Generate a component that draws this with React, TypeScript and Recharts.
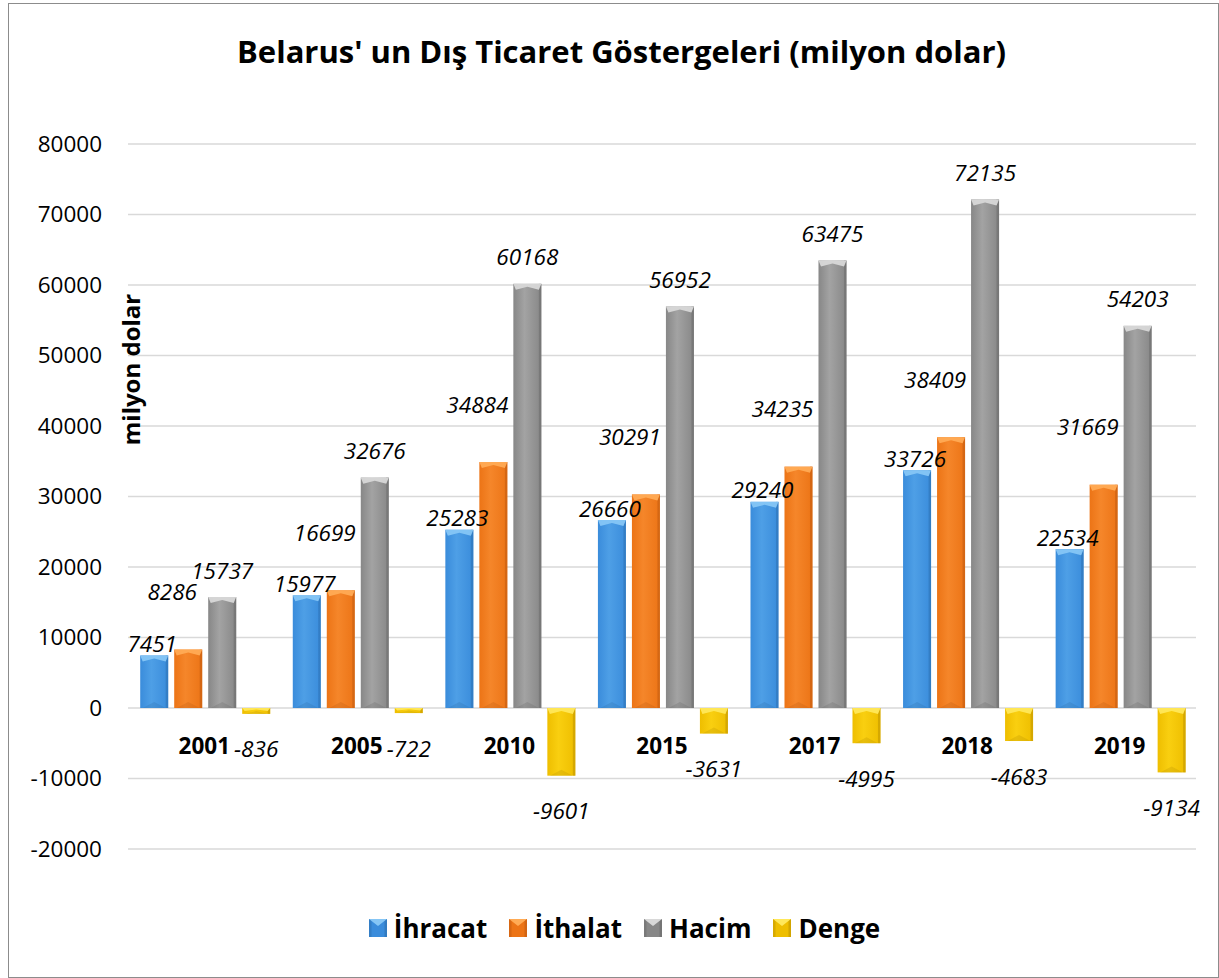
import React from "react";
import { BarChart, Bar, XAxis, YAxis, CartesianGrid, LabelList } from "recharts";

const years = ["2001", "2005", "2010", "2015", "2017", "2018", "2019"];
const ihracat = [7451, 15977, 25283, 26660, 29240, 33726, 22534];
const ithalat = [8286, 16699, 34884, 30291, 34235, 38409, 31669];
const hacim = [15737, 32676, 60168, 56952, 63475, 72135, 54203];
const denge = [-836, -722, -9601, -3631, -4995, -4683, -9134];
const yTicks = [-20000, -10000, 0, 10000, 20000, 30000, 40000, 50000, 60000, 70000, 80000];

const data = years.map((y, i) => ({
  year: y,
  ihracat: ihracat[i],
  ithalat: ithalat[i],
  hacim: hacim[i],
  denge: denge[i],
}));

const W = 1211;
const H = 975;
const XAXIS_H = 30;
const M = { top: 141, right: 23, bottom: 129 - XAXIS_H, left: 20 };
const Y_MIN = -20000;
const Y_MAX = 80000;
const plotH = H - M.top - M.bottom - XAXIS_H;
const zeroY = M.top + (plotH * Y_MAX) / (Y_MAX - Y_MIN);

const FONT = "'Open Sans', 'Liberation Sans', sans-serif";

const palette: Record<string, { main: string; mid: string; light: string; dark: string }> = {
  ihracat: { main: "#3a8cdb", mid: "#4e9fe6", light: "#86c6f5", dark: "#2a6aa8" },
  ithalat: { main: "#ec7416", mid: "#f5862a", light: "#ffab55", dark: "#b9560f" },
  hacim: { main: "#878787", mid: "#a3a3a3", light: "#d8d8d8", dark: "#636363" },
  denge: { main: "#eebe00", mid: "#f9cf10", light: "#ffe85a", dark: "#b58c00" },
};

const makeShape = (key: string) => (props: any) => {
  const { x, y, width, height } = props;
  if (width == null || height == null) return null;
  const top = Math.min(y, y + height);
  const h = Math.abs(height);
  if (h < 0.5) return null;
  const p = palette[key];
  const b = Math.min(6, h / 2);
  const s = Math.min(2.5, width / 6);
  return (
    <g>
      <rect x={x} y={top} width={width} height={h} fill={`url(#body-${key})`} />
      <rect x={x + width - s} y={top} width={s} height={h} fill={p.dark} opacity={0.45} />
      <polygon
        points={`${x},${top} ${x + width},${top} ${x + width - s},${top + b} ${x + width / 2},${top + b * 0.5} ${x + s},${top + b}`}
        fill={p.light}
        opacity={0.95}
      />
      <polygon points={`${x + s},${top + h} ${x + width - s},${top + h} ${x + width / 2},${top + h - b}`} fill={p.dark} opacity={0.25} />
    </g>
  );
};

const makeLabel = (dx: number, dy: number, below: boolean) => (props: any) => {
  const { x, y, width, height, value } = props;
  const top = Math.min(y, y + height);
  const bottom = Math.max(y, y + height);
  const cx = x + width / 2 + dx;
  const cy = (below ? bottom : top) + dy;
  return (
    <text x={cx} y={cy} textAnchor="middle" dominantBaseline="central" fontFamily={FONT} fontStyle="italic" fontSize={22.5} fill="#000">
      {value}
    </text>
  );
};

const CatTick = (props: any) => {
  const { x, payload } = props;
  return (
    <text x={x} y={zeroY + 37} textAnchor="middle" dominantBaseline="central" fontFamily={FONT} fontWeight="bold" fontSize={22.5} fill="#000">
      {payload.value}
    </text>
  );
};

const legendItems = [
  { key: "ihracat", name: "İhracat" },
  { key: "ithalat", name: "İthalat" },
  { key: "hacim", name: "Hacim" },
  { key: "denge", name: "Denge" },
];

const LegendSwatch = ({ k }: { k: string }) => {
  const p = palette[k];
  return (
    <svg width={18} height={18} style={{ marginRight: 7 }}>
      <rect x={0} y={0} width={18} height={18} fill={p.main} />
      <rect x={0} y={0} width={2.5} height={18} fill={p.dark} opacity={0.4} />
      <rect x={15.5} y={0} width={2.5} height={18} fill={p.dark} opacity={0.5} />
      <polygon points="0,0 18,0 9,7" fill={p.light} />
    </svg>
  );
};

export default function App() {
  return (
    <div
      style={{
        position: "absolute",
        left: 8,
        top: 3,
        width: W,
        height: H,
        border: "1.5px solid #8c8c8c",
        boxSizing: "border-box",
        background: "#fff",
      }}
    >
      <div
        style={{
          position: "absolute",
          top: 26,
          left: 0,
          width: W,
          paddingLeft: 14,
          boxSizing: "border-box",
          textAlign: "center",
          fontFamily: FONT,
          fontWeight: "bold",
          fontSize: 31,
          color: "#000",
        }}
      >
        Belarus' un Dış Ticaret Göstergeleri (milyon dolar)
      </div>
      <div style={{ position: "absolute", left: -1.5, top: -1.5 }}>
        <BarChart width={W} height={H} data={data} margin={M} barCategoryGap="8%" barGap={6}>
          <defs>
            {Object.keys(palette).map((k) => (
              <linearGradient key={k} id={`body-${k}`} x1="0" y1="0" x2="1" y2="0">
                <stop offset="0%" stopColor={palette[k].main} />
                <stop offset="40%" stopColor={palette[k].mid} />
                <stop offset="100%" stopColor={palette[k].main} />
              </linearGradient>
            ))}
          </defs>
          <CartesianGrid vertical={false} stroke="#d9d9d9" strokeWidth={1.3} />
          <XAxis dataKey="year" axisLine={false} tickLine={false} tick={<CatTick />} height={XAXIS_H} interval={0} />
          <YAxis
            domain={[Y_MIN, Y_MAX]}
            ticks={yTicks}
            axisLine={false}
            tickLine={false}
            tickSize={0}
            tickMargin={26}
            width={100}
            tick={{ fontFamily: FONT, fontSize: 22.5, fill: "#000" }}
            label={{
              value: "milyon dolar",
              angle: -90,
              position: "insideLeft",
              offset: 0,
              dx: 103,
              dy: -127,
              style: { fontFamily: FONT, fontWeight: "bold", fontSize: 24, fill: "#000", textAnchor: "middle" },
            }}
          />
          <Bar dataKey="ihracat" name="İhracat" shape={makeShape("ihracat")} isAnimationActive={false}>
            <LabelList dataKey="ihracat" content={makeLabel(-2, -12, false)} />
          </Bar>
          <Bar dataKey="ithalat" name="İthalat" shape={makeShape("ithalat")} isAnimationActive={false}>
            <LabelList dataKey="ithalat" content={makeLabel(-16, -58, false)} />
          </Bar>
          <Bar dataKey="hacim" name="Hacim" shape={makeShape("hacim")} isAnimationActive={false}>
            <LabelList dataKey="hacim" content={makeLabel(0, -27, false)} />
          </Bar>
          <Bar dataKey="denge" name="Denge" shape={makeShape("denge")} isAnimationActive={false}>
            <LabelList dataKey="denge" content={makeLabel(0, 35, true)} />
          </Bar>
        </BarChart>
      </div>
      <div
        style={{
          position: "absolute",
          left: 0,
          top: 906,
          width: W,
          display: "flex",
          justifyContent: "center",
          alignItems: "center",
          paddingLeft: 42,
          boxSizing: "border-box",
        }}
      >
        {legendItems.map((it) => (
          <div key={it.key} style={{ display: "flex", alignItems: "center", marginRight: 22 }}>
            <LegendSwatch k={it.key} />
            <span style={{ fontFamily: FONT, fontWeight: "bold", fontSize: 26, color: "#000" }}>{it.name}</span>
          </div>
        ))}
      </div>
    </div>
  );
}
